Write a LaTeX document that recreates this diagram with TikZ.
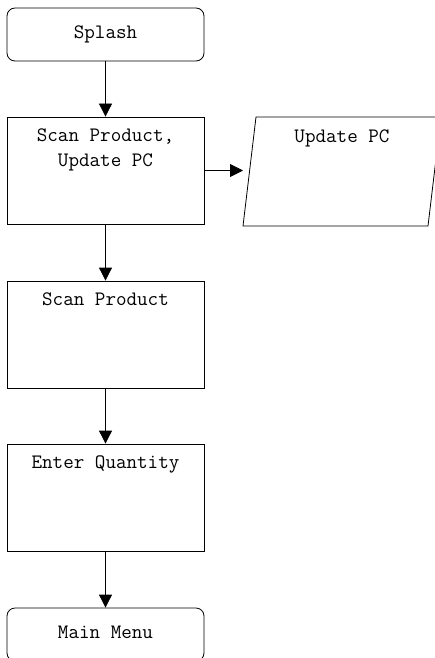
\documentclass[tikz,border=0pt]{standalone}
\usepackage{fontspec}
\usetikzlibrary{shapes, arrows.meta}

\begin{document}
\begin{tikzpicture}[x=1pt, y=-1pt, >={Triangle[length=13pt,width=13pt]}, line width=0.8pt,
	every node/.style={font=\fontsize{20.5}{25}\selectfont\ttfamily},
	term/.style={draw, rounded corners=8pt, minimum width=197pt, minimum height=53pt, inner sep=0pt, text height=12pt, text depth=4pt},
	proc/.style={draw, minimum width=197pt, minimum height=107pt, inner sep=0pt},
	boxtitle/.style={label={[anchor=north, inner sep=0pt, yshift=-12pt, align=center]north:#1}}]

\useasboundingbox (0,0) rectangle (435,658);
\clip (0,0) rectangle (435,658);

\node[term] (splash) at (105.5,34.5) {Splash};
\node[proc, boxtitle={Scan Product,\\Update PC}] (scanpc) at (105.5,170.5) {};
\node[proc, boxtitle={Scan Product}] (scan) at (105.5,334.5) {};
\node[proc, boxtitle={Enter Quantity}] (qty) at (105.5,497.5) {};
\node[term] (menu) at (105.5,634.5) {Main Menu};

% data box
\draw (256,117) -- (441,117) -- (428,226) -- (243,226) -- cycle;
\node[anchor=north, inner sep=0pt] (updpc) at (342,129.5) {Update PC};
\coordinate (updpcin) at (243,170.5);

\draw[->] (splash) -- (scanpc);
\draw[->] (scanpc.east) -- (updpcin);
\draw[->] (scanpc) -- (scan);
\draw[->] (scan) -- (qty);
\draw[->] (qty) -- (menu);

\end{tikzpicture}
\end{document}
